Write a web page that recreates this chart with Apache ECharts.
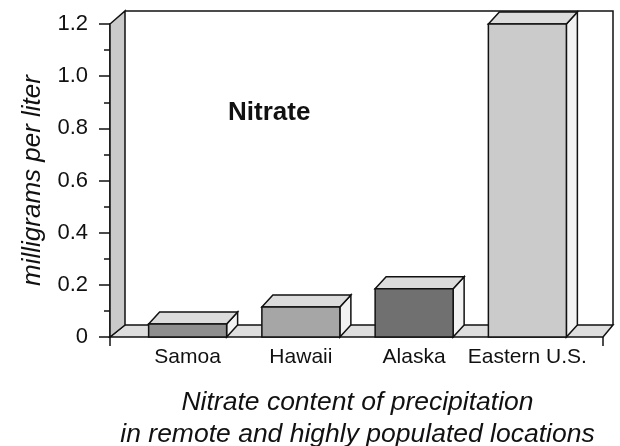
<!DOCTYPE html>
<html>
<head>
<meta charset="utf-8">
<script src="https://cdn.jsdelivr.net/npm/echarts@6/dist/echarts.min.js"></script>
<style>
  html, body { margin: 0; padding: 0; background: #fff; }
  #chart { width: 620px; height: 446px; }
</style>
</head>
<body>
<div id="chart"></div>
<script>
const categories = ["Samoa", "Hawaii", "Alaska", "Eastern U.S."];
const nitrate = [0.05, 0.115, 0.185, 1.2];
const frontColors = ["#8e8e8e", "#a6a6a6", "#707070", "#cbcbcb"];

const chart = echarts.init(document.getElementById("chart"), null, { renderer: "canvas" });
const font = "Liberation Sans, Arial, Helvetica, sans-serif";
const ink = "#111";

// floor / walls behind the bars
function renderFrame(params, api) {
  const cs = params.coordSys;
  const x0 = cs.x - 21, x1 = cs.x + cs.width + 19;
  const yb = cs.y + cs.height, yt = cs.y;
  const bl = x0 + 15, br = x1 + 10, dy = -12;
  const st = { stroke: ink, lineWidth: 1.5 };
  return {
    type: "group",
    children: [
      { type: "polygon", shape: { points: [[x0, yb], [x1, yb], [br, yb + dy], [bl, yb + dy]] },
        style: Object.assign({ fill: "#dedede" }, st) },
      { type: "polygon", shape: { points: [[x0, yb], [x0, yt], [bl, yt - 13], [bl, yb + dy]] },
        style: Object.assign({ fill: "#cacaca" }, st) },
      { type: "polyline", shape: { points: [[bl, yt - 13], [br, yt - 13], [br, yb + dy]] },
        style: { stroke: ink, lineWidth: 1.5, fill: null } },
      { type: "line", shape: { x1: x0, y1: yb, x2: x0, y2: yb + 9 }, style: { stroke: ink, lineWidth: 1.5 } },
      { type: "line", shape: { x1: x1, y1: yb, x2: x1, y2: yb + 9 }, style: { stroke: ink, lineWidth: 1.5 } }
    ]
  };
}

function renderBar(params, api) {
  const i = api.value(0);
  const base = api.coord([i, 0]);
  const top = api.coord([i, api.value(1)]);
  const w = 78, dx = 11, dy = -12;
  const l = base[0] - w / 2, r = base[0] + w / 2;
  const yb = base[1], yt = top[1];
  const st = { stroke: ink, lineWidth: 1.5 };
  return {
    type: "group",
    children: [
      { type: "polygon", shape: { points: [[r, yb], [r, yt], [r + dx, yt + dy], [r + dx, yb + dy]] },
        style: Object.assign({ fill: "#f2f2f2" }, st) },
      { type: "polygon", shape: { points: [[l, yt], [r, yt], [r + dx, yt + dy], [l + dx, yt + dy]] },
        style: Object.assign({ fill: "#dcdcdc" }, st) },
      { type: "rect", shape: { x: l, y: yt, width: w, height: yb - yt },
        style: Object.assign({ fill: frontColors[params.dataIndex] }, st) }
    ]
  };
}

const option = {
  backgroundColor: "#fff",
  animation: false,
  title: {
    text: "Nitrate",
    left: 228,
    top: 100,
    padding: 0,
    textStyle: { fontFamily: font, fontSize: 26, fontWeight: "bold", color: ink }
  },
  grid: { left: 131, right: 36, top: 24, bottom: 109, outerBoundsMode: "none" },
  xAxis: {
    type: "category",
    data: categories,
    axisLine: { show: false },
    axisTick: { show: false },
    axisLabel: { color: ink, fontFamily: font, fontSize: 21, margin: 10, interval: 0 },
    name: "Nitrate content of precipitation\nin remote and highly populated locations",
    nameLocation: "middle",
    nameGap: 50,
    nameTextStyle: { color: ink, fontFamily: font, fontSize: 26.5, fontStyle: "italic", lineHeight: 32 }
  },
  yAxis: {
    type: "value",
    min: 0,
    max: 1.2,
    interval: 0.2,
    offset: 21,
    axisLine: { show: true, lineStyle: { color: ink, width: 1.5 } },
    axisTick: { show: true, length: 11, lineStyle: { color: ink, width: 1.5 } },
    minorTick: { show: true, splitNumber: 2, length: 6, lineStyle: { color: ink, width: 1.5 } },
    splitLine: { show: false },
    axisLabel: {
      color: ink, fontFamily: font, fontSize: 22, margin: 22,
      formatter: v => (v === 0 ? "0" : v.toFixed(1))
    },
    name: "milligrams per liter",
    nameLocation: "middle",
    nameGap: 64,
    nameTextStyle: { color: ink, fontFamily: font, fontSize: 26, fontStyle: "italic" }
  },
  series: [
    {
      type: "custom",
      z: 1,
      renderItem: renderFrame,
      data: [[0, 0]],
      silent: true
    },
    {
      type: "custom",
      z: 2,
      renderItem: renderBar,
      encode: { x: 0, y: 1 },
      data: nitrate.map((v, i) => [i, v])
    }
  ]
};

chart.setOption(option);
</script>
</body>
</html>
